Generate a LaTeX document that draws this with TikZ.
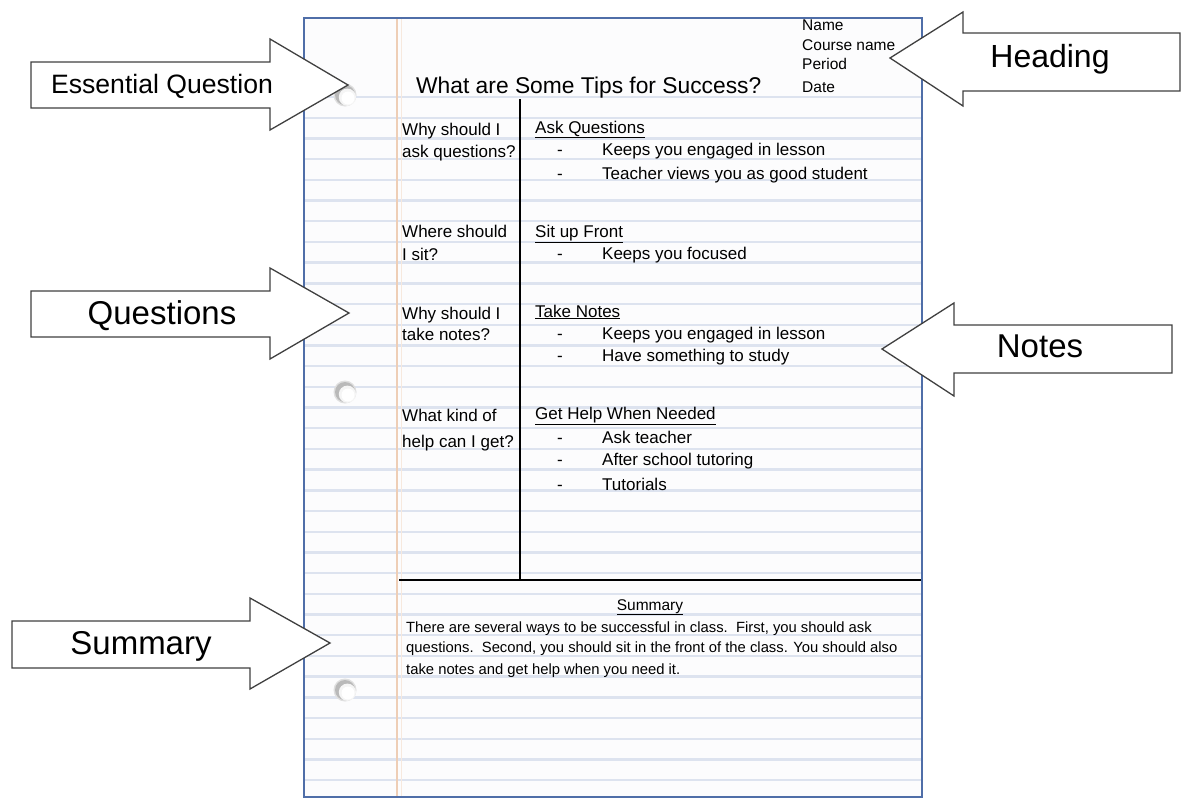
\documentclass[tikz,border=0pt]{standalone}
\usepackage{fontspec}
\setmainfont{Liberation Sans}
\definecolor{paperborder}{RGB}{79,110,168}
\definecolor{rulecol}{RGB}{221,227,239}
\definecolor{margincol}{RGB}{238,206,182}
\definecolor{arrowline}{RGB}{64,64,64}
\definecolor{paperfill}{RGB}{252,252,253}
\tikzset{
  callout/.style={draw=arrowline, line width=1.3pt, fill=white, line join=miter},
  calloutlabel/.style={anchor=base, inner sep=0pt, font=\fontsize{33}{36}\selectfont},
  qtext/.style={anchor=base west, inner sep=0pt, font=\fontsize{17}{20}\selectfont},
  ntext/.style={anchor=base west, inner sep=0pt, font=\fontsize{17}{20}\selectfont},
  htext/.style={anchor=base west, inner sep=0pt, font=\fontsize{15.5}{18}\selectfont},
  stext/.style={anchor=base west, inner sep=0pt, font=\fontsize{14.8}{17}\selectfont},
  rule/.style={rulecol, line width=2.4pt},
}
\begin{document}
\begin{tikzpicture}[x=1pt,y=-1pt]
\useasboundingbox (0,0) rectangle (1196,806);
% paper
\draw[paperborder, line width=1.4pt, fill=paperfill] (304,18) rectangle (922,797);
\foreach \i in {0,...,33} {
  \draw[rule] (305,{97+\i*20.7}) -- (921,{97+\i*20.7});
}
\draw[margincol, line width=1.8pt] (397,19) -- (397,796);
\draw[margincol!45, line width=1pt] (401,19) -- (401,796);
% holes
\foreach \y/\n in {95/h1,392/h2,690/h3} {
  \coordinate (\n) at (345,\y);
  \fill[gray!25] (\n) circle (11.5pt);
  \fill[gray!55] (\n) circle (10pt);
  \fill[white!92!gray] ([xshift=2.4pt,yshift=-2.2pt]\n) circle (8.6pt);
  \fill[white] ([xshift=3pt,yshift=-3pt]\n) circle (6.5pt);
}
% header
\node[htext] (name) at (802,30.5) {Name};
\node[htext] (course) at (802,50.5) {Course name};
\node[htext] (period) at (802,69.5) {Period};
\node[htext] (date) at (802,92) {Date};
\node[anchor=base west, inner sep=0pt, font=\fontsize{22.8}{26}\selectfont] (title) at (416,93) {What are Some Tips for Success?};
% frame lines
\coordinate (vtop) at (520,99);
\coordinate (vbot) at (520,580);
\coordinate (hl) at (399,580);
\coordinate (hr) at (921,580);
\draw[line width=1.5pt] (vtop) -- (vbot);
\draw[line width=1.5pt] (hl) -- (hr);
% questions
\node[qtext] (q1a) at (402,135) {Why should I};
\node[qtext] (q1b) at (402,157) {ask questions?};
\node[qtext] (q2a) at (402,237) {Where should};
\node[qtext] (q2b) at (402,260) {I sit?};
\node[qtext] (q3a) at (402,319) {Why should I};
\node[qtext] (q3b) at (402,340) {take notes?};
\node[qtext] (q4a) at (402,421) {What kind of};
\node[qtext] (q4b) at (402,447) {help can I get?};
% notes
\node[ntext] (n1) at (535,133) {\underline{Ask Questions}};
\node[ntext] (n1d1) at (557,155) {-};
\node[ntext] (n1i1) at (602,155) {Keeps you engaged in lesson};
\node[ntext] (n1d2) at (557,179) {-};
\node[ntext] (n1i2) at (602,179) {Teacher views you as good student};
\node[ntext] (n2) at (535,237) {\underline{Sit up Front}};
\node[ntext] (n2d1) at (557,259) {-};
\node[ntext] (n2i1) at (602,259) {Keeps you focused};
\node[ntext] (n3) at (535,317) {\underline{Take Notes}};
\node[ntext] (n3d1) at (557,339) {-};
\node[ntext] (n3i1) at (602,339) {Keeps you engaged in lesson};
\node[ntext] (n3d2) at (557,361) {-};
\node[ntext] (n3i2) at (602,361) {Have something to study};
\node[ntext] (n4) at (535,419) {\underline{Get Help When Needed}};
\node[ntext] (n4d1) at (557,443) {-};
\node[ntext] (n4i1) at (602,443) {Ask teacher};
\node[ntext] (n4d2) at (557,465) {-};
\node[ntext] (n4i2) at (602,465) {After school tutoring};
\node[ntext] (n4d3) at (557,490) {-};
\node[ntext] (n4i3) at (602,490) {Tutorials};
% summary
\node[anchor=base, inner sep=0pt, font=\fontsize{15.5}{17}\selectfont] (sumtitle) at (650,610) {\underline{Summary}};
\node[stext] (s1) at (406,632) {There are several ways to be successful in class.\ \ First, you should ask};
\node[stext] (s2) at (406,652) {questions.\ \ Second, you should sit in the front of the class. You should also};
\node[stext] (s3) at (406,674) {take notes and get help when you need it.};
% callouts
\draw[callout] (31,62) -- (270,62) -- (270,39) -- (348,85) -- (270,130) -- (270,108) -- (31,108) -- cycle;
\node[calloutlabel, font=\fontsize{26.6}{30}\selectfont] (eq) at (162,93) {Essential Question};
\draw[callout] (890,58) -- (963,12) -- (963,33) -- (1180,33) -- (1180,91) -- (963,91) -- (963,106) -- cycle;
\node[calloutlabel, font=\fontsize{32}{36}\selectfont] (heading) at (1050,67) {Heading};
\draw[callout] (31,291) -- (270,291) -- (270,268) -- (349,313) -- (270,359) -- (270,337) -- (31,337) -- cycle;
\node[calloutlabel] (questions) at (162,324) {Questions};
\draw[callout] (882,349) -- (954,303) -- (954,325) -- (1172,325) -- (1172,373) -- (954,373) -- (954,396) -- cycle;
\node[calloutlabel] (notes) at (1040,357) {Notes};
\draw[callout] (12,621) -- (250,621) -- (250,598) -- (330,643) -- (250,689) -- (250,668) -- (12,668) -- cycle;
\node[calloutlabel] (summary) at (141,654) {Summary};
\end{tikzpicture}
\end{document}
